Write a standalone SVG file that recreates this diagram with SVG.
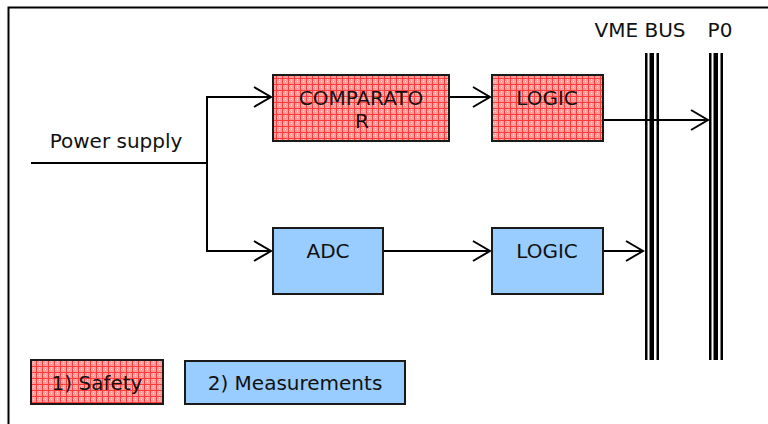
<svg xmlns="http://www.w3.org/2000/svg" width="768" height="424" viewBox="0 0 768 424">
  <defs>
    <pattern id="redgrid" width="6" height="6" patternUnits="userSpaceOnUse">
      <rect width="6" height="6" fill="#ff9c9c"/>
      <rect x="0" y="0" width="6" height="1" fill="#ff3a3a"/>
      <rect x="0" y="0" width="1" height="6" fill="#ff3a3a"/>
      <rect x="3" y="3" width="1" height="1" fill="#ffe6e6"/>
      <rect x="3" y="1" width="1" height="1" fill="#ffd0d0"/>
      <rect x="1" y="3" width="1" height="1" fill="#ffd0d0"/>
    </pattern>
    <marker id="open" markerUnits="userSpaceOnUse" markerWidth="22" markerHeight="26" refX="19" refY="12" orient="auto">
      <path d="M2,2 L19,12 L2,22" fill="none" stroke="#000" stroke-width="2"/>
    </marker>
  </defs>
  <style>
    .safe { fill: url(#redgrid); stroke: #1a1a1a; stroke-width: 2; }
    .meas { fill: #99ccff; stroke: #1a1a1a; stroke-width: 2; }
    .lbl { font-family: "DejaVu Sans", Verdana, sans-serif; font-size: 20px; fill: #111; text-anchor: middle; }
    .wire { fill: none; stroke: #000; stroke-width: 2; }
    .arr { marker-end: url(#open); }
  </style>

  <rect width="768" height="424" fill="#fff"/>
  <!-- outer frame -->
  <path d="M8.5,424 V7.5 H768" fill="none" stroke="#000" stroke-width="2"/>

  <!-- buses -->
  <g id="vme-bus">
    <rect x="645" y="53" width="2.5" height="307" fill="#000"/>
    <rect x="649.5" y="53" width="4.5" height="307" fill="#000"/>
    <rect x="656.5" y="53" width="2.5" height="307" fill="#000"/>
    <text class="lbl" x="640" y="37">VME BUS</text>
  </g>
  <g id="p0-bus">
    <rect x="709" y="53" width="2.5" height="307" fill="#000"/>
    <rect x="713.5" y="53" width="4.5" height="307" fill="#000"/>
    <rect x="720.5" y="53" width="2.5" height="307" fill="#000"/>
    <text class="lbl" x="720" y="37">P0</text>
  </g>

  <!-- connectors -->
  <g id="connectors">
    <path class="wire" d="M31,163 H207"/>
    <path class="wire arr" d="M207,163 V97 H271"/>
    <path class="wire arr" d="M207,163 V251 H271"/>
    <path class="wire arr" d="M449,97 H490"/>
    <path class="wire arr" d="M603,120 H708"/>
    <path class="wire arr" d="M383,251 H490"/>
    <path class="wire arr" d="M603,251 H643"/>
  </g>

  <g id="power-supply">
    <text class="lbl" x="116" y="148">Power supply</text>
  </g>

  <g id="comparator">
    <rect class="safe" x="273" y="75" width="176" height="66"/>
    <text class="lbl" x="361" y="105">COMPARATO</text>
    <text class="lbl" x="362" y="128">R</text>
  </g>
  <g id="logic-safety">
    <rect class="safe" x="492" y="75" width="111" height="66"/>
    <text class="lbl" x="547" y="105">LOGIC</text>
  </g>
  <g id="adc">
    <rect class="meas" x="273" y="228" width="110" height="66"/>
    <text class="lbl" x="328" y="258">ADC</text>
  </g>
  <g id="logic-measurements">
    <rect class="meas" x="492" y="228" width="111" height="66"/>
    <text class="lbl" x="547" y="258">LOGIC</text>
  </g>

  <!-- legend -->
  <g id="legend-safety">
    <rect class="safe" x="31" y="360" width="132" height="44"/>
    <text class="lbl" x="97" y="390">1) Safety</text>
  </g>
  <g id="legend-measurements">
    <rect class="meas" x="185" y="361" width="220" height="43"/>
    <text class="lbl" x="295" y="390">2) Measurements</text>
  </g>
</svg>
